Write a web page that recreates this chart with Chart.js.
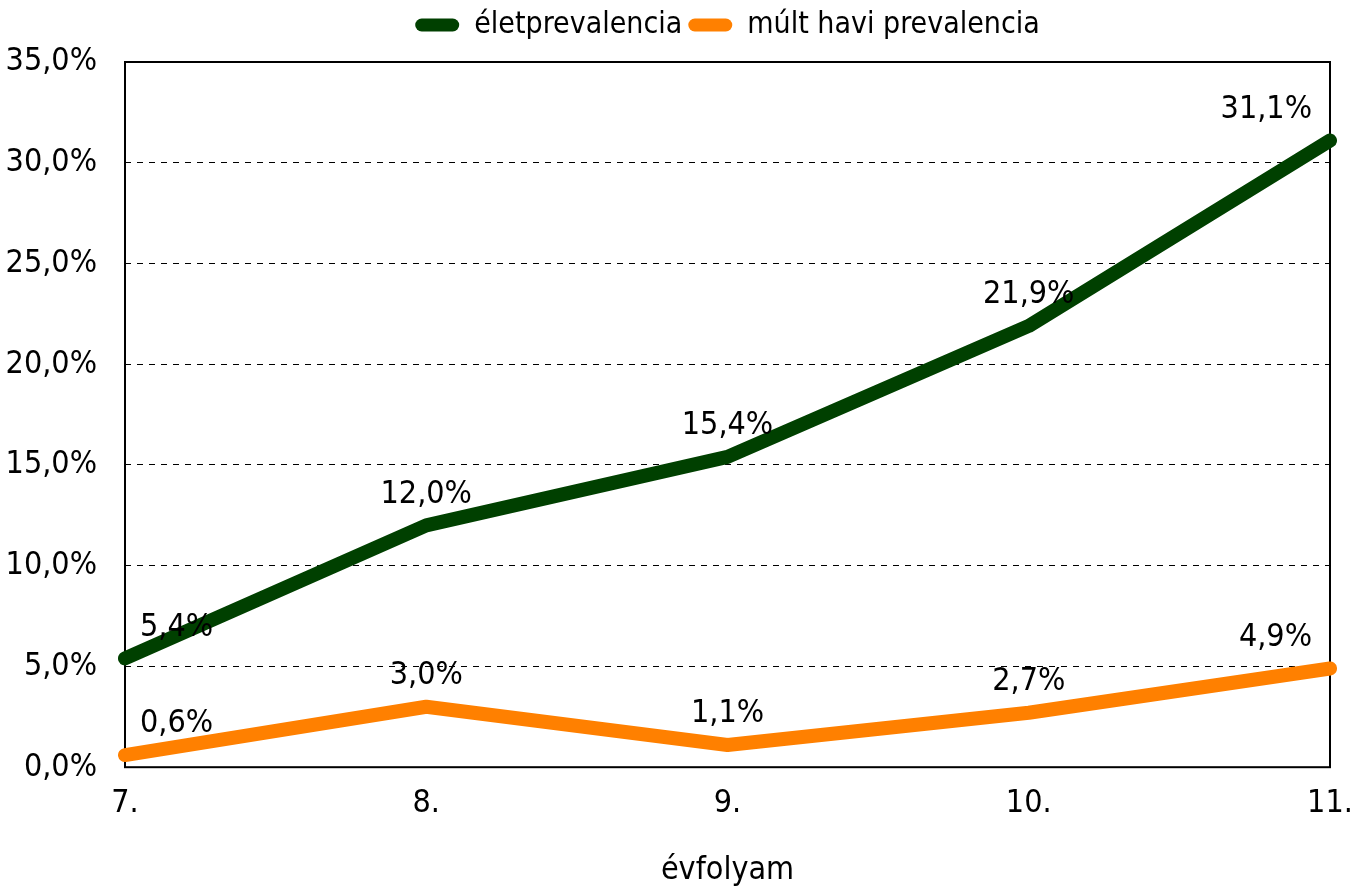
<!DOCTYPE html>
<html>
<head>
<meta charset="utf-8">
<script src="https://cdn.jsdelivr.net/npm/chart.js@4/dist/chart.umd.min.js"></script>
<style>
  html, body { margin: 0; padding: 0; background: #fff; }
  #wrap { width: 1354px; height: 890px; }
</style>
</head>
<body>
<div id="wrap"><canvas id="myChart"></canvas></div>
<script>
// Chart data
const grades = ['7.', '8.', '9.', '10.', '11.'];
const lifetime = [5.4, 12.0, 15.4, 21.9, 31.1];
const lastMonth = [0.6, 3.0, 1.1, 2.7, 4.9];
const seriesNames = ['életprevalencia', 'múlt havi prevalencia'];
const axisTitle = 'évfolyam';

const FONT = '"Liberation Sans Narrow", "Arial Narrow", "DejaVu Sans Condensed", sans-serif';
const FSIZE = 32;

// format a number like Excel with Hungarian decimal comma
function pct(v) {
    return v.toFixed(1).replace('.', ',') + '%';
}

// draws the black frame round the plot area
const frame = {
    id: 'frame',
    beforeDatasetsDraw(chart) {
        const a = chart.chartArea;
        const ctx = chart.ctx;
        ctx.save();
        ctx.strokeStyle = '#000';
        ctx.lineWidth = 2;
        ctx.strokeRect(a.left, a.top, a.right - a.left, a.bottom - a.top);
        ctx.restore();
    }
};

// a bit more room under the legend
const legendGap = {
    id: 'legendGap',
    beforeLayout(chart) {
        const lg = chart.legend;
        if (lg && !lg._patched) {
            const fit = lg.fit;
            lg.fit = function () {
                fit.call(this);
                this.height += 12;
            };
            lg._patched = true;
        }
    }
};

// value labels above each point
const valueLabels = {
    id: 'valueLabels',
    afterDatasetsDraw(chart) {
        const ctx = chart.ctx;
        const a = chart.chartArea;
        ctx.save();
        ctx.font = FSIZE + 'px ' + FONT;
        ctx.fillStyle = '#000';
        ctx.textBaseline = 'middle';
        ctx.textAlign = 'center';
        chart.data.datasets.forEach((ds, i) => {
            chart.getDatasetMeta(i).data.forEach((pt, j) => {
                const txt = pct(ds.data[j]);
                const w = ctx.measureText(txt).width;
                let x = pt.x;
                // keep the label inside the plot, as Excel does
                x = Math.max(x, a.left + 15 + w / 2);
                x = Math.min(x, a.right - 18 - w / 2);
                ctx.fillText(txt, x, pt.y - 31);
            });
        });
        ctx.restore();
    }
};

let ctx = document.getElementById('myChart').getContext('2d');

let chart = new Chart(ctx, {
    type: 'line',
    data: {
        labels: grades,
        datasets: [{
            label: seriesNames[0],
            data: lifetime,
            borderColor: 'rgb(0,64,0)',
            backgroundColor: 'rgb(0,64,0)',
        },
        {
            label: seriesNames[1],
            data: lastMonth,
            borderColor: 'rgb(255,128,0)',
            backgroundColor: 'rgb(255,128,0)',
        }]
    },
    options: {
        responsive: true,
        maintainAspectRatio: false,
        animation: false,
        layout: { padding: { left: 0, right: 0, top: 4, bottom: 0 } },
        elements: {
            line: { borderWidth: 14, borderCapStyle: 'round', borderJoinStyle: 'round', tension: 0 },
            point: { radius: 0, hoverRadius: 0 }
        },
        plugins: {
            tooltip: { enabled: false },
            legend: {
                position: 'top',
                fullSize: false,
                labels: {
                    color: '#000',
                    font: { family: FONT, size: 30 },
                    boxWidth: 44,
                    boxHeight: 13,
                    useBorderRadius: true,
                    borderRadius: 6.5,
                    padding: 6,
                    generateLabels(chart) {
                        const items = Chart.defaults.plugins.legend.labels.generateLabels(chart);
                        items.forEach(it => { it.lineWidth = 0; });
                        return items;
                    }
                }
            }
        },
        scales: {
            x: {
                offset: false,
                afterFit(scale) {
                    scale.paddingLeft = 0;
                    scale.paddingRight = 24;
                },
                grid: { display: false, drawTicks: false },
                border: { display: false },
                ticks: { color: '#000', font: { family: FONT, size: FSIZE }, padding: 17, maxRotation: 0 },
                title: { display: true, text: axisTitle, color: '#000', font: { family: FONT, size: FSIZE }, padding: { top: 12, bottom: 0 } }
            },
            y: {
                min: 0,
                max: 35,
                afterFit(scale) { scale.width = 125; },
                grid: {
                    color: '#000',
                    lineWidth: 1,
                    drawTicks: false
                },
                border: { display: false, dash: [6, 6] },
                ticks: {
                    stepSize: 5,
                    color: '#000',
                    font: { family: FONT, size: FSIZE },
                    padding: 28,
                    callback: v => pct(v)
                }
            }
        }
    },
    plugins: [frame, legendGap, valueLabels]
});
</script>
</body>
</html>
